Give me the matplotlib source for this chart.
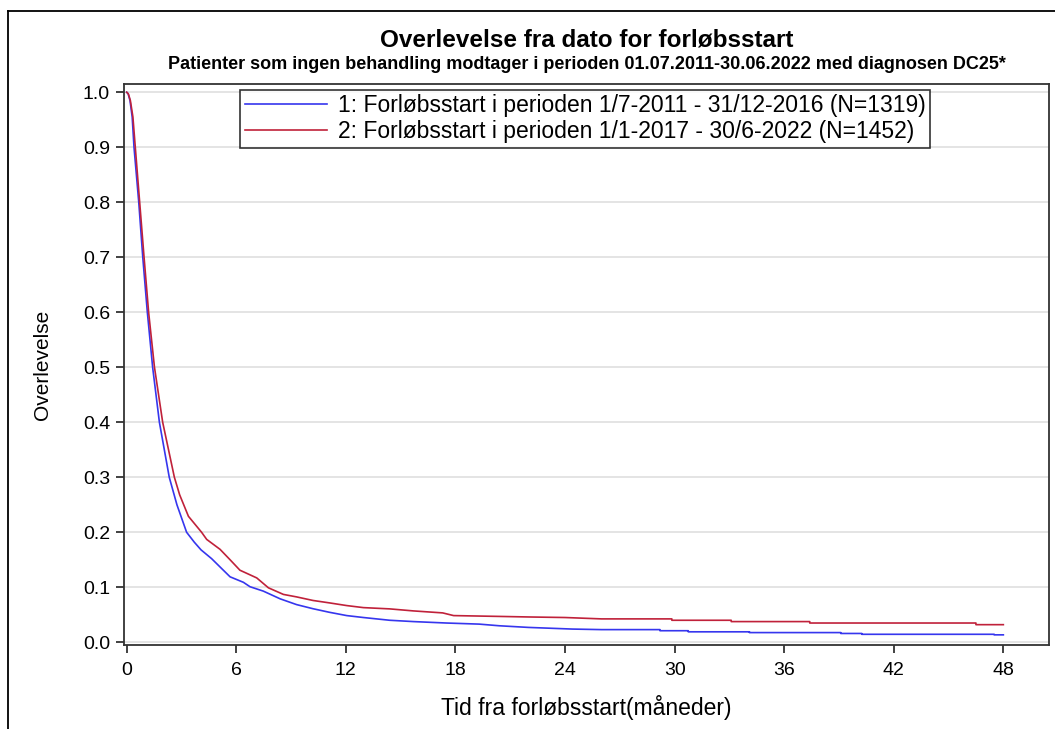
import matplotlib
matplotlib.use("Agg")
import matplotlib.pyplot as plt
from matplotlib.lines import Line2D

plt.rcParams['font.family'] = ['Liberation Sans', 'DejaVu Sans']

# survival (months, survival)
t_1 = [0, 0.08, 0.18, 0.30, 0.40, 0.66, 0.88, 1.13, 1.42, 1.79, 2.33, 2.75, 3.28, 3.7, 4.07, 4.65,
       5.2, 5.66, 6.39, 6.75, 7.48, 8.4, 9.3, 10.2, 11.1, 12.05, 12.96, 14.4, 15.7, 17.5,
       19.3, 20.4, 22.0, 24.4, 26.0, 29.2, 29.2, 30.75, 30.75, 34.1, 34.1, 39.1, 39.1,
       40.25, 40.25, 47.5, 47.5, 48]
s_1 = [1.0, 0.997, 0.985, 0.955, 0.90, 0.80, 0.70, 0.60, 0.50, 0.40, 0.30, 0.25, 0.20, 0.182, 0.168, 0.152,
       0.134, 0.119, 0.109, 0.101, 0.093, 0.079, 0.0685, 0.061, 0.0545, 0.0485, 0.045, 0.040, 0.0376, 0.035,
       0.033, 0.030, 0.027, 0.024, 0.023, 0.023, 0.021, 0.021, 0.019, 0.019, 0.0176, 0.0176, 0.016,
       0.016, 0.0145, 0.0145, 0.0135, 0.0135]

t_2 = [0, 0.09, 0.2, 0.34, 0.47, 0.71, 0.95, 1.2, 1.52, 1.97, 2.61, 2.9, 3.38, 4.1, 4.38,
       5.11, 5.66, 6.2, 7.12, 7.76, 8.58, 9.3, 10.2, 11.1, 12.05, 12.96, 14.4, 15.7,
       17.3, 17.9, 20.4, 22.0, 24.0, 26.0, 29.85, 29.85, 33.1, 33.1, 37.4, 37.4,
       46.5, 46.5, 48]
s_2 = [1.0, 0.997, 0.985, 0.955, 0.90, 0.80, 0.70, 0.60, 0.50, 0.40, 0.30, 0.268, 0.229, 0.20, 0.187,
       0.169, 0.150, 0.131, 0.117, 0.099, 0.087, 0.0825, 0.076, 0.0716, 0.0667, 0.063, 0.0607, 0.057,
       0.0534, 0.0485, 0.047, 0.046, 0.045, 0.0425, 0.0425, 0.040, 0.040, 0.0376, 0.0376, 0.035,
       0.035, 0.032, 0.032]

labels = ["1: Forløbsstart i perioden 1/7-2011 - 31/12-2016 (N=1319)",
          "2: Forløbsstart i perioden 1/1-2017 - 30/6-2022 (N=1452)"]
x_ticks = [0, 6, 12, 18, 24, 30, 36, 42, 48]
y_ticks = [0.0, 0.1, 0.2, 0.3, 0.4, 0.5, 0.6, 0.7, 0.8, 0.9, 1.0]

fig = plt.figure(figsize=(10.55, 7.29), dpi=100)
ax = fig.add_axes([0.1175, 0.1152, 0.8768, 0.7696])

for yv in y_ticks:
    ax.axhline(yv, color='#e2e2e2', linewidth=1.3, zorder=0)

ax.plot(t_1, s_1, color='#3636ee', linewidth=1.2, label=labels[0])
ax.plot(t_2, s_2, color='#c0213a', linewidth=1.2, label=labels[1])

ax.set_xlim(-0.15, 50.5)
ax.set_ylim(-0.005, 1.015)
ax.set_xticks(x_ticks)
ax.set_yticks(y_ticks)
ax.set_yticklabels([f"{v:.1f}" for v in y_ticks])
ax.tick_params(axis='both', direction='out', length=6, width=1.3, color='#333333',
               labelsize=14, pad=4)
ax.tick_params(axis='x', pad=6)
for sp in ax.spines.values():
    sp.set_color('#333333')
    sp.set_linewidth(1.3)

ax.set_xlabel("Tid fra forløbsstart(måneder)", fontsize=16.5, labelpad=12)
ax.set_ylabel("Overlevelse", fontsize=15, labelpad=22)

leg = ax.legend(loc='upper center', bbox_to_anchor=(0.4986, 0.99), fontsize=16.5,
                frameon=True, fancybox=False, edgecolor='black', handlelength=3.6,
                borderpad=0.2, labelspacing=0.12, handletextpad=0.45, borderaxespad=0)
leg.get_frame().set_linewidth(1.2)

fig.text(0.556, 0.945, "Overlevelse fra dato for forløbsstart", ha='center', va='center',
         fontsize=17.5, fontweight='bold')
fig.text(0.556, 0.911, "Patienter som ingen behandling modtager i perioden 01.07.2011-30.06.2022 med diagnosen DC25*",
         ha='center', va='center', fontsize=13, fontweight='bold')

# outer frame, left and top only
fig.add_artist(Line2D([8 / 1055, 8 / 1055], [0, 1 - 11 / 729], color='black', linewidth=1.3,
                      transform=fig.transFigure))
fig.add_artist(Line2D([8 / 1055, 1], [1 - 11 / 729, 1 - 11 / 729], color='black', linewidth=1.3,
                      transform=fig.transFigure))

plt.savefig('out.png', dpi=100)
